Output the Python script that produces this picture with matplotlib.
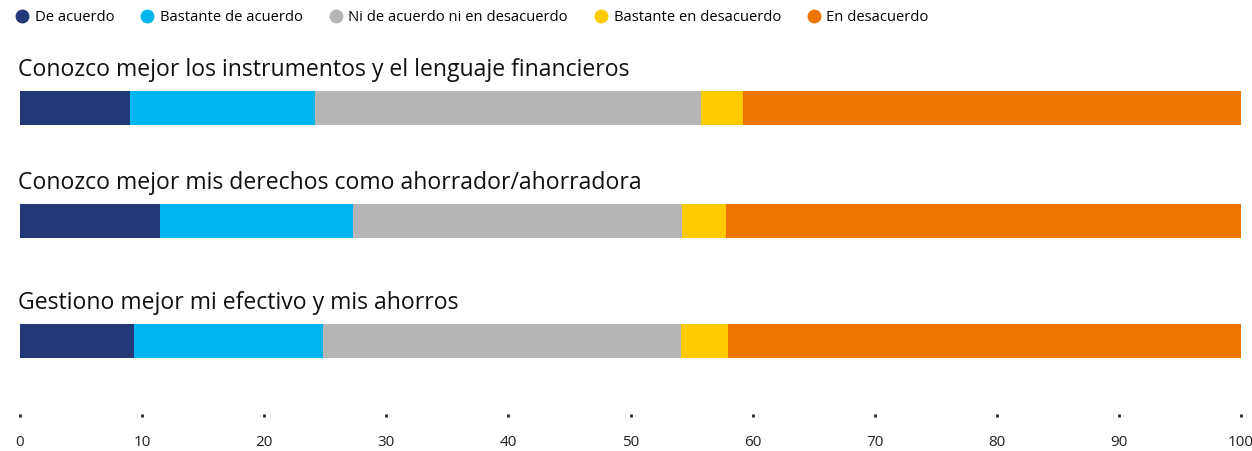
import matplotlib
matplotlib.use("Agg")
import matplotlib.pyplot as plt
from matplotlib.lines import Line2D
import numpy as np

categories = [
    "Conozco mejor los instrumentos y el lenguaje financieros",
    "Conozco mejor mis derechos como ahorrador/ahorradora",
    "Gestiono mejor mi efectivo y mis ahorros",
]
series_names = ["De acuerdo", "Bastante de acuerdo", "Ni de acuerdo ni en desacuerdo",
                "Bastante en desacuerdo", "En desacuerdo"]
de_acuerdo = [9.0, 11.5, 9.3]
bastante_de_acuerdo = [15.2, 15.8, 15.5]
ni_ni = [31.6, 26.9, 29.3]
bastante_en_desacuerdo = [3.4, 3.6, 3.9]
en_desacuerdo = [40.8, 42.2, 42.0]
colors = ["#233877", "#00B5EE", "#B5B5B5", "#FFCB00", "#EE7500"]
xticks = [0, 10, 20, 30, 40, 50, 60, 70, 80, 90, 100]

plt.rcParams['font.family'] = ['Open Sans', 'DejaVu Sans']

W, H = 1252, 451
fig = plt.figure(figsize=(W / 100, H / 100), dpi=100)
ax_top_px, ax_bot_px = 45, 414
ax = fig.add_axes([20 / W, 1 - ax_bot_px / H, 1221 / W, (ax_bot_px - ax_top_px) / H])

# layout: row centres in figure-pixel units (y axis runs in pixels)
row_pos = [108, 221, 341]
bar_h = 34

series = [de_acuerdo, bastante_de_acuerdo, ni_ni, bastante_en_desacuerdo, en_desacuerdo]
left = np.zeros(len(categories))
for vals, c, name in zip(series, colors, series_names):
    ax.barh(row_pos, vals, left=left, height=bar_h, color=c, label=name)
    left += np.array(vals)

ax.set_xlim(0, 100)
ax.set_ylim(ax_bot_px, ax_top_px)
for p, cat in zip(row_pos, categories):
    ax.text(-0.15, p - 38, cat, fontsize=16.6, va='center', ha='left', color='#111111')

for s in ax.spines.values():
    s.set_visible(False)
ax.set_yticks([])
ax.set_xticks(xticks)
ax.set_xticklabels([str(t) for t in xticks])
ax.tick_params(axis='x', length=2, width=2, color='#222222', pad=13, labelsize=11,
               labelcolor='#222222')
for lab in ax.get_xticklabels():
    lab.set_clip_on(False)

handles = [Line2D([0], [0], marker='o', linestyle='', markersize=9, markerfacecolor=c,
                  markeredgecolor=c) for c in colors]
fig.legend(handles, series_names, ncol=5, loc='upper left', bbox_to_anchor=(9 / W, 1 - 4 / H),
           frameon=False, fontsize=10.6, handletextpad=0.35, columnspacing=1.75,
           handlelength=1.0, borderaxespad=0)

fig.savefig("out.png", dpi=100)
